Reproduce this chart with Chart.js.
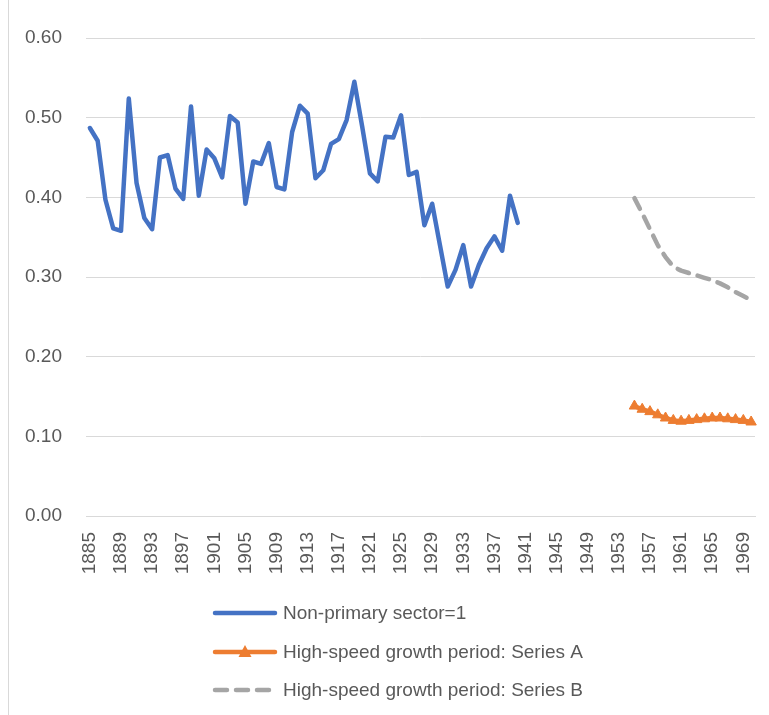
<!DOCTYPE html>
<html><head><meta charset="utf-8">
<script src="https://cdn.jsdelivr.net/npm/chart.js@4.4.0/dist/chart.umd.min.js"></script>
<style>
html,body{margin:0;padding:0;background:#fff;}
#wrap{position:relative;width:769px;height:715px;overflow:hidden;}
#edge{position:absolute;left:8px;top:0;width:1px;height:715px;background:#d9d9d9;}
canvas{position:absolute;left:0;top:0;}
</style>
</head><body>
<div id="wrap"><div id="edge"></div><canvas id="c" width="769" height="715"></canvas></div>
<script>
const years = [1885,1886,1887,1888,1889,1890,1891,1892,1893,1894,1895,1896,1897,1898,1899,
1900,1901,1902,1903,1904,1905,1906,1907,1908,1909,1910,1911,1912,1913,1914,1915,1916,1917,1918,1919,
1920,1921,1922,1923,1924,1925,1926,1927,1928,1929,1930,1931,1932,1933,1934,1935,1936,1937,1938,1939,
1940,1941,1942,1943,1944,1945,1946,1947,1948,1949,1950,1951,1952,1953,1954,1955,1956,1957,1958,1959,
1960,1961,1962,1963,1964,1965,1966,1967,1968,1969,1970];

// Non-primary sector = 1 (1885-1940)
const nonPrimaryStart = 1885;
const nonPrimary = [0.487,0.471,0.397,0.361,0.358,0.524,0.418,0.374,0.360,0.450,0.453,0.411,0.398,0.514,0.402,
0.460,0.449,0.425,0.502,0.494,0.392,0.445,0.442,0.468,0.413,0.410,0.482,0.515,0.505,0.424,0.434,0.467,0.473,0.497,0.545,
0.489,0.430,0.420,0.476,0.475,0.503,0.428,0.432,0.365,0.392,0.340,0.288,0.309,0.340,0.288,0.315,0.336,0.351,0.333,0.402,
0.368];

// High-speed growth period (1955-1970)
const highSpeedStart = 1955;
const seriesA = [0.138,0.134,0.131,0.127,0.123,0.120,0.119,0.120,0.121,0.122,0.123,0.123,0.122,0.121,0.120,0.118];
const seriesB = [0.399,0.380,0.360,0.340,0.325,0.313,0.308,0.305,0.302,0.299,0.296,0.292,0.287,0.281,0.276,0.271];

const yTicks = [0,0.1,0.2,0.3,0.4,0.5,0.6];
const seriesNames = ['Non-primary sector=1','High-speed growth period: Series A','High-speed growth period: Series B'];

function place(values, start){
  return years.map(y => { const i = y - start; return (i >= 0 && i < values.length) ? values[i] : null; });
}

const FONT = 'Liberation Sans';
const TXT = '#595959';

const legendPlugin = {
  id: 'vlegend',
  afterDraw(chart){
    const ctx = chart.ctx;
    const rows = [613, 652, 690];
    chart.data.datasets.forEach((ds, i) => {
      const y = rows[i];
      ctx.save();
      ctx.strokeStyle = ds.borderColor;
      ctx.lineWidth = ds.borderWidth;
      ctx.lineCap = 'round';
      ctx.setLineDash(ds.borderDash || []);
      ctx.beginPath(); ctx.moveTo(215, y); ctx.lineTo(275, y); ctx.stroke();
      ctx.setLineDash([]);
      if (ds.pointStyle === 'triangle'){
        ctx.fillStyle = ds.borderColor;
        ctx.beginPath();
        ctx.moveTo(245, y - 7); ctx.lineTo(251.5, y + 5); ctx.lineTo(238.5, y + 5); ctx.closePath(); ctx.fill();
      }
      ctx.fillStyle = TXT;
      ctx.font = '19px "' + FONT + '"';
      ctx.textBaseline = 'middle';
      ctx.textAlign = 'left';
      ctx.fillText(ds.label, 283, y + 1);
      ctx.restore();
    });
  }
};

new Chart(document.getElementById('c'), {
  type: 'line',
  data: {
    labels: years.map(String),
    datasets: [
      { label: seriesNames[0], data: place(nonPrimary, nonPrimaryStart), borderColor: '#4472C4', backgroundColor: '#4472C4',
        borderWidth: 4.5, pointRadius: 0, borderJoinStyle: 'round', borderCapStyle: 'round', tension: 0 },
      { label: seriesNames[1], data: place(seriesA, highSpeedStart), borderColor: '#ED7D31', backgroundColor: '#ED7D31',
        borderWidth: 4.5, pointStyle: 'triangle', pointRadius: 6, pointBorderWidth: 1, borderJoinStyle: 'round', tension: 0 },
      { label: seriesNames[2], data: place(seriesB, highSpeedStart), borderColor: '#A5A5A5', backgroundColor: '#A5A5A5',
        borderWidth: 4.5, pointRadius: 0, borderDash: [12, 9], borderCapStyle: 'round', borderJoinStyle: 'round', tension: 0 }
    ]
  },
  options: {
    responsive: false,
    animation: false,
    layout: { padding: { top: 38, right: 14, bottom: 129, left: 0 } },
    plugins: { legend: { display: false }, tooltip: { enabled: false } },
    scales: {
      x: {
        offset: true,
        grid: { display: false, drawTicks: false },
        border: { display: true, color: '#d9d9d9' },
        ticks: {
          autoSkip: false, maxRotation: 90, minRotation: 90, padding: 16, color: TXT,
          font: { size: 19, family: FONT },
          callback(v, i){ return i % 4 === 0 ? this.getLabelForValue(v) : null; }
        },
        afterFit(s){ s.height = 70; s.paddingLeft = 0; s.paddingRight = 0; }
      },
      y: {
        min: yTicks[0], max: yTicks[yTicks.length - 1],
        afterBuildTicks(s){ s.ticks = yTicks.map(v => ({ value: v })); },
        grid: { color: '#d9d9d9', lineWidth: 1, drawTicks: false },
        border: { display: false },
        ticks: { padding: 24, color: TXT, font: { size: 19, family: FONT }, callback: v => Number(v).toFixed(2) },
        afterFit(s){ s.width = 86; s.paddingTop = 0; s.paddingBottom = 0; }
      }
    }
  },
  plugins: [legendPlugin]
});
</script>
</body></html>
